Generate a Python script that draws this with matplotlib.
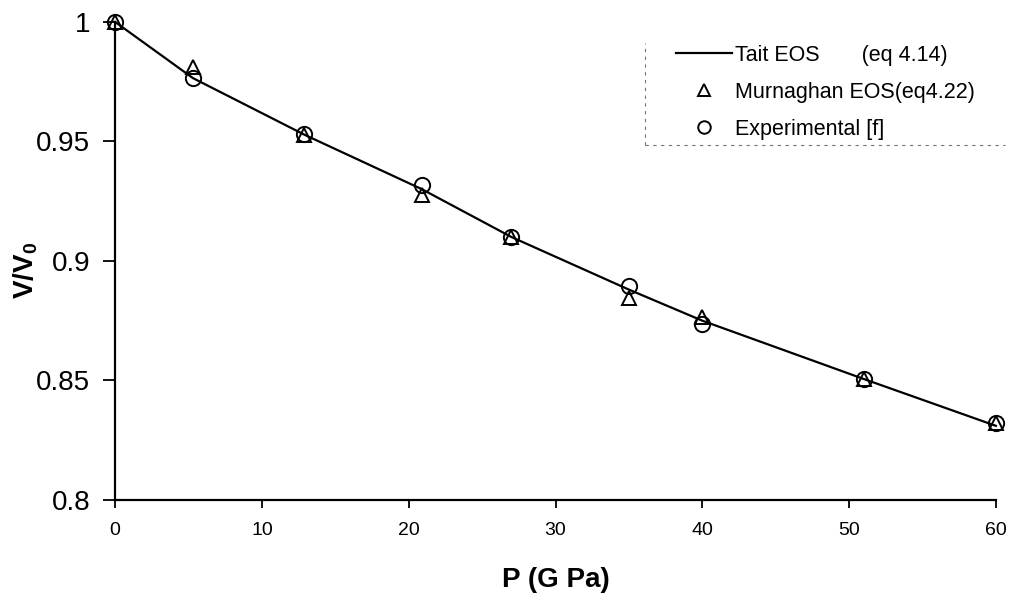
import matplotlib.pyplot as plt
from matplotlib.lines import Line2D
from matplotlib.ticker import FuncFormatter

plt.rcParams['font.family'] = ['Liberation Sans', 'DejaVu Sans']
plt.rcParams['mathtext.fontset'] = 'custom'
plt.rcParams['mathtext.rm'] = 'Liberation Sans'
plt.rcParams['mathtext.bf'] = 'Liberation Sans:bold'

# pressure (GPa) and relative volume V/V0
pressure = [0, 5.3, 12.9, 20.9, 27.0, 35.0, 40.0, 51.0, 60.0]
tait = [1.000, 0.9765, 0.9528, 0.9300, 0.9100, 0.8880, 0.8750, 0.8506, 0.8310]
murnaghan = [1.000, 0.9810, 0.9527, 0.9276, 0.9100, 0.8845, 0.8766, 0.8506, 0.8320]
experimental = [1.000, 0.9766, 0.9530, 0.9318, 0.9100, 0.8895, 0.8736, 0.8506, 0.8320]

xticks = [0, 10, 20, 30, 40, 50, 60]
yticks = [0.8, 0.85, 0.9, 0.95, 1.0]

fig = plt.figure(figsize=(10.1, 5.93), dpi=100)
ax = fig.add_axes([0.114, 0.157, 0.872, 0.806])

ax.plot(pressure, tait, 'k-', linewidth=1.6, clip_on=False)
ax.plot(pressure, murnaghan, linestyle='none', marker='^', markersize=10,
        markerfacecolor='none', markeredgecolor='k', markeredgewidth=1.4, clip_on=False)
ax.plot(pressure, experimental, linestyle='none', marker='o', markersize=11,
        markerfacecolor='none', markeredgecolor='k', markeredgewidth=1.4, clip_on=False)

ax.set_xlim(0, 60)
ax.set_ylim(0.8, 1.0)
ax.set_xticks(xticks)
ax.set_yticks(yticks)
ax.yaxis.set_major_formatter(FuncFormatter(lambda v, p: '%g' % v))
ax.tick_params(axis='x', direction='out', length=6, width=1.3, labelsize=14, pad=10)
ax.tick_params(axis='y', direction='out', length=9, width=1.3, labelsize=20, pad=9)

for side in ['top', 'right']:
    ax.spines[side].set_visible(False)
for side in ['left', 'bottom']:
    ax.spines[side].set_linewidth(1.6)

ax.set_xlabel('P (G Pa)', fontsize=20, fontweight='bold', labelpad=20)
ax.set_ylabel(r'V/V$_\mathbf{0}$', fontsize=20, fontweight='bold')
ax.yaxis.set_label_coords(-0.085, 0.48)

handles = [
    Line2D([], [], color='k', linewidth=1.6),
    Line2D([], [], linestyle='none', marker='^', markersize=9,
           markerfacecolor='none', markeredgecolor='k', markeredgewidth=1.4),
    Line2D([], [], linestyle='none', marker='o', markersize=9,
           markerfacecolor='none', markeredgecolor='k', markeredgewidth=1.4),
]
labels = ['Tait EOS       (eq 4.14)', 'Murnaghan EOS(eq4.22)', 'Experimental [f]']
leg = ax.legend(handles, labels, loc='upper left', bbox_to_anchor=(0.637, 0.952),
                frameon=False, fontsize=15.5, handlelength=2.6, handletextpad=0.15,
                labelspacing=0.74, borderpad=0, borderaxespad=0)

# faint dashed frame on the legend's left and bottom edges
ax.plot([0.602, 0.602], [0.743, 0.955], transform=ax.transAxes, color='0.45',
        linewidth=0.8, linestyle=(0, (3, 4)), clip_on=False)
ax.plot([0.602, 1.01], [0.743, 0.743], transform=ax.transAxes, color='0.45',
        linewidth=0.8, linestyle=(0, (3, 4)), clip_on=False)

fig.savefig('out.png', dpi=100)
